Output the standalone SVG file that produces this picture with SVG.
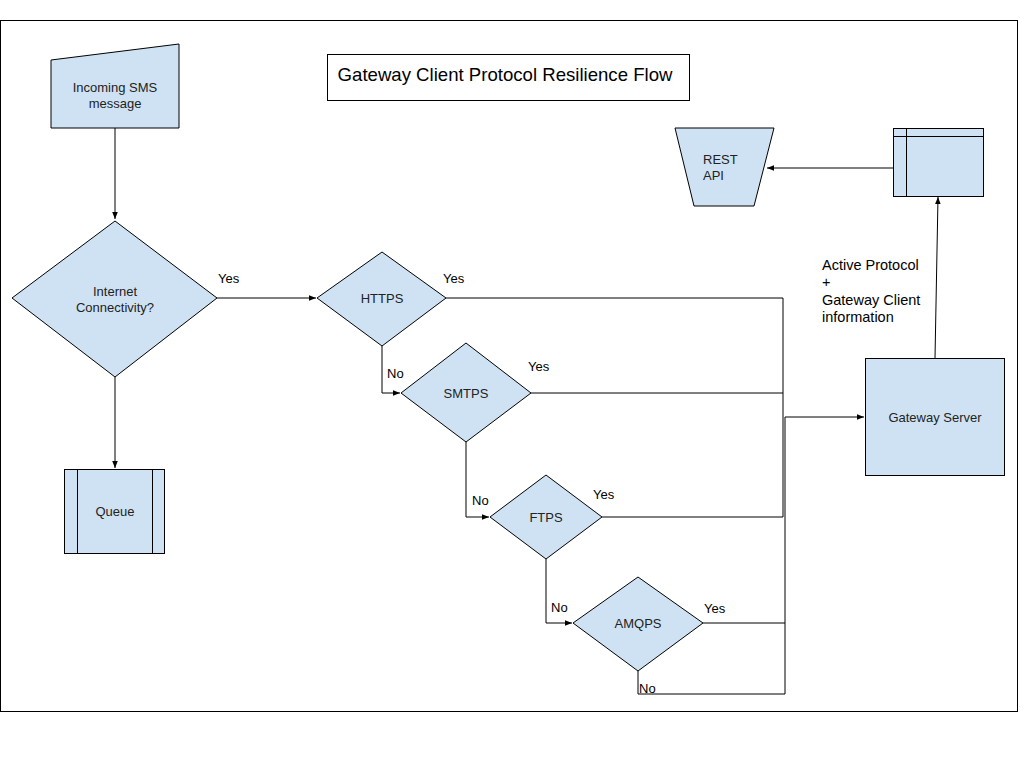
<svg xmlns="http://www.w3.org/2000/svg" width="1024" height="768" viewBox="0 0 1024 768">
<style>
.shape{fill:#cfe2f3;stroke:#000;stroke-width:1}
.line{fill:none;stroke:#000;stroke-width:1}
text{font-family:"Liberation Sans",Arial,sans-serif;font-size:13px;fill:#222}
.c{text-anchor:middle}
.lbl{fill:#000}
</style>
<defs>
<marker id="arr" viewBox="0 0 10 10" refX="10" refY="5" markerWidth="7" markerHeight="7" markerUnits="userSpaceOnUse" orient="auto">
<path d="M0,1 L10,5 L0,9 Z" fill="#000"/>
</marker>
</defs>
<rect x="0" y="0" width="1024" height="768" fill="#fff"/>
<rect x="0.5" y="20.5" width="1017" height="691" fill="none" stroke="#000" stroke-width="1"/>

<g id="title">
<rect x="327.5" y="54.5" width="362" height="46" fill="#fff" stroke="#000"/>
<text x="505" y="81" class="c" style="font-size:18.6px;fill:#000">Gateway Client Protocol Resilience Flow</text>
</g>

<g id="connectors">
<path class="line" d="M115,128 V219" marker-end="url(#arr)"/>
<path class="line" d="M115,377 V468" marker-end="url(#arr)"/>
<path class="line" d="M217,298 H316" marker-end="url(#arr)"/>
<path class="line" d="M446,298 H783 V517"/>
<path class="line" d="M382,346 V393 H400" marker-end="url(#arr)"/>
<path class="line" d="M531,393 H783"/>
<path class="line" d="M466,442 V517 H489" marker-end="url(#arr)"/>
<path class="line" d="M602,517 H783"/>
<path class="line" d="M546,559 V623 H572" marker-end="url(#arr)"/>
<path class="line" d="M703,623 H785"/>
<path class="line" d="M638,671 V694 H785 V417"/>
<path class="line" d="M785,417 H864" marker-end="url(#arr)"/>
<path class="line" d="M935,358 L938,197" marker-end="url(#arr)"/>
<path class="line" d="M893,168 H767" marker-end="url(#arr)"/>
<text x="218" y="283" class="lbl">Yes</text>
<text x="443" y="283" class="lbl">Yes</text>
<text x="387" y="378" class="lbl">No</text>
<text x="528" y="371" class="lbl">Yes</text>
<text x="472" y="505" class="lbl">No</text>
<text x="593" y="499" class="lbl">Yes</text>
<text x="551" y="612" class="lbl">No</text>
<text x="704" y="613" class="lbl">Yes</text>
<text x="639" y="693" class="lbl">No</text>
<text x="822" y="270" class="lbl" style="font-size:14.5px">Active Protocol</text>
<text x="822" y="287" class="lbl" style="font-size:14.5px">+</text>
<text x="822" y="305" class="lbl" style="font-size:14.5px">Gateway Client</text>
<text x="822" y="322" class="lbl" style="font-size:14.5px">information</text>
</g>

<g id="incoming-sms">
<path class="shape" d="M51,60 L179,44 V128 H51 Z"/>
<text x="115" y="92" class="c">Incoming SMS</text>
<text x="115" y="108" class="c">message</text>
</g>

<g id="internet-connectivity">
<path class="shape" d="M115,221 L217,298 L115,377 L12,298 Z"/>
<text x="115" y="296" class="c">Internet</text>
<text x="115" y="312" class="c">Connectivity?</text>
</g>

<g id="queue">
<rect class="shape" x="64.5" y="469.5" width="100" height="84"/>
<path class="line" d="M77.5,469.5 V553.5 M152.5,469.5 V553.5"/>
<text x="115" y="516" class="c">Queue</text>
</g>

<g id="https">
<path class="shape" d="M382,252 L446,298 L382,346 L317,298 Z"/>
<text x="382" y="303" class="c">HTTPS</text>
</g>

<g id="smtps">
<path class="shape" d="M466,343 L531,393 L466,442 L401,393 Z"/>
<text x="466" y="398" class="c">SMTPS</text>
</g>

<g id="ftps">
<path class="shape" d="M546,475 L602,517 L546,559 L490,517 Z"/>
<text x="546" y="522" class="c">FTPS</text>
</g>

<g id="amqps">
<path class="shape" d="M638,577 L703,623 L638,671 L573,623 Z"/>
<text x="638" y="628" class="c">AMQPS</text>
</g>

<g id="gateway-server">
<rect class="shape" x="865.5" y="358.5" width="139" height="117"/>
<text x="935" y="422" class="c">Gateway Server</text>
</g>

<g id="storage">
<rect class="shape" x="893.5" y="128.5" width="90" height="68"/>
<path class="line" d="M893.5,136.5 H983.5 M906.5,128.5 V196.5"/>
</g>

<g id="rest-api">
<path class="shape" d="M675,128 H774 L754,206 H694 Z"/>
<text x="703" y="164">REST</text>
<text x="703" y="180">API</text>
</g>
</svg>
